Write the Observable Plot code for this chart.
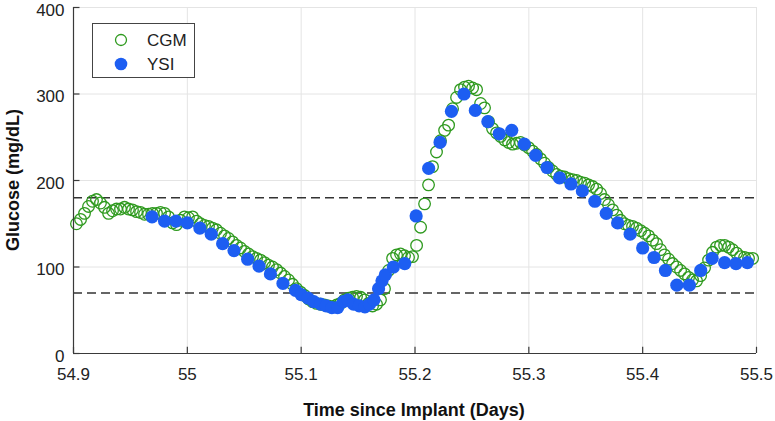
<!DOCTYPE html>
<html>
<head>
<meta charset="utf-8">
<script src="https://cdn.jsdelivr.net/npm/d3@7"></script>
<script src="https://cdn.jsdelivr.net/npm/@observablehq/plot@0.6"></script>
<style>
  html, body { margin: 0; padding: 0; background: #fff; }
  #chart { width: 775px; height: 421px; position: relative; }
</style>
</head>
<body>
<div id="chart"></div>
<script>
// ---- data ----
const xTicks = [54.9, 55, 55.1, 55.2, 55.3, 55.4, 55.5];
const yTicks = [0, 100, 200, 300, 400];
const thresholds = [70, 180];
const seriesNames = ["CGM", "YSI"];

const cgmTime = [
  54.9026, 54.9062, 54.9097, 54.9132, 54.9167, 54.9202, 54.9237, 54.9272, 54.9308, 54.9343,
  54.9378, 54.9413, 54.9448, 54.9483, 54.9518, 54.9554, 54.9589, 54.9624, 54.9659, 54.9694,
  54.9729, 54.9764, 54.9800, 54.9835, 54.9870, 54.9905, 54.9940, 54.9975, 55.0010, 55.0046,
  55.0081, 55.0116, 55.0151, 55.0186, 55.0221, 55.0256, 55.0292, 55.0327, 55.0362, 55.0397,
  55.0432, 55.0467, 55.0502, 55.0538, 55.0573, 55.0608, 55.0643, 55.0678, 55.0713, 55.0748,
  55.0784, 55.0819, 55.0854, 55.0889, 55.0924, 55.0959, 55.0994, 55.1030, 55.1065, 55.1100,
  55.1135, 55.1170, 55.1205, 55.1240, 55.1276, 55.1311, 55.1346, 55.1381, 55.1416, 55.1451,
  55.1486, 55.1522, 55.1557, 55.1592, 55.1627, 55.1662, 55.1697, 55.1732, 55.1768, 55.1803,
  55.1838, 55.1873, 55.1908, 55.1943, 55.1978, 55.2014, 55.2049, 55.2084, 55.2119, 55.2154,
  55.2189, 55.2224, 55.2260, 55.2295, 55.2330, 55.2365, 55.2400, 55.2435, 55.2470, 55.2506,
  55.2541, 55.2576, 55.2611, 55.2646, 55.2681, 55.2716, 55.2752, 55.2787, 55.2822, 55.2857,
  55.2892, 55.2927, 55.2962, 55.2998, 55.3033, 55.3068, 55.3103, 55.3138, 55.3173, 55.3208,
  55.3244, 55.3279, 55.3314, 55.3349, 55.3384, 55.3419, 55.3454, 55.3490, 55.3525, 55.3560,
  55.3595, 55.3630, 55.3665, 55.3700, 55.3736, 55.3771, 55.3806, 55.3841, 55.3876, 55.3911,
  55.3946, 55.3982, 55.4017, 55.4052, 55.4087, 55.4122, 55.4157, 55.4192, 55.4228, 55.4263,
  55.4298, 55.4333, 55.4368, 55.4403, 55.4438, 55.4474, 55.4509, 55.4544, 55.4579, 55.4614,
  55.4649, 55.4684, 55.4720, 55.4755, 55.4790, 55.4825, 55.4860, 55.4895, 55.4930, 55.4966
];
const cgmGlucose = [
  150, 155, 162, 170, 176, 178, 174, 169, 162, 165,
  167, 167, 169, 167, 166, 164, 163, 161, 161, 162,
  162, 163, 162, 158, 151, 149, 154, 158, 157, 158,
  153, 150, 148, 147, 145, 143, 139, 136, 133, 129,
  125, 122, 118, 115, 112, 110, 108, 105, 102, 100,
  97, 93, 89, 85, 80, 75, 71, 67, 63, 60,
  58, 57, 56, 55, 54, 56, 58, 62, 64, 65,
  66, 65, 62, 58, 55, 57, 62, 75, 96, 110,
  114, 115, 113, 111, 112, 125, 146, 173, 195, 216,
  233, 246, 258, 264, 283, 296, 305, 308, 309, 307,
  305, 289, 284, 268, 260, 255, 251, 247, 244, 242,
  243, 244, 241, 238, 234, 230, 225, 220, 215, 211,
  207, 205, 204, 202, 201, 200, 198, 197, 195, 193,
  190, 185, 178, 172, 166, 160, 154, 150, 148, 147,
  145, 142, 139, 136, 131, 127, 120, 114, 109, 104,
  100, 96, 92, 88, 85, 84, 90, 99, 108, 117,
  123, 125, 125, 123, 120, 116, 112, 111, 110, 110
];

const ysiTime = [
  54.969, 54.980, 54.990, 55.000, 55.011, 55.021, 55.031, 55.041, 55.053, 55.063,
  55.073, 55.084, 55.095, 55.100, 55.106, 55.111, 55.117, 55.122, 55.127, 55.132,
  55.137, 55.141, 55.146, 55.151, 55.156, 55.160, 55.164, 55.168, 55.171, 55.174,
  55.181, 55.191, 55.201, 55.212, 55.222, 55.232, 55.243, 55.253, 55.264, 55.274,
  55.285, 55.296, 55.306, 55.316, 55.327, 55.337, 55.347, 55.358, 55.368, 55.378,
  55.389, 55.400, 55.410, 55.420, 55.430, 55.441, 55.451, 55.461, 55.472, 55.482,
  55.492
];
const ysiGlucose = [
  158, 153, 153, 151, 145, 138, 127, 119, 109, 101,
  92, 81, 73, 68, 64, 60, 57, 55, 53, 53,
  60, 62, 57, 55, 54, 57, 62, 75, 84, 91,
  100, 104, 159, 214, 244, 280, 300, 281, 268, 254,
  258, 242, 229, 215, 203, 196, 188, 176, 162, 151,
  138, 122, 111, 96, 79, 79, 96, 110, 105, 104,
  105
];

// ---- build tables ----
const cgm = cgmTime.map((t, i) => ({t, g: cgmGlucose[i]}));
const ysi = ysiTime.map((t, i) => ({t, g: ysiGlucose[i]}));

const green = "#2f9a1f";
const blue = "#1d5ef2";
const axisColor = "#3a3a3a";
const font = "'Liberation Sans', Arial, Helvetica, sans-serif";

const xMin = xTicks[0], xMax = xTicks[xTicks.length - 1];
const yMin = yTicks[0], yMax = yTicks[yTicks.length - 1];
const tickLenX = (xMax - xMin) * 0.0095; // inward ticks length in data units
const tickLenY = (yMax - yMin) * 0.018;

const chart = Plot.plot({
  width: 775,
  height: 421,
  marginLeft: 73,
  marginRight: 19,
  marginTop: 7,
  marginBottom: 68,
  style: {fontFamily: font, fontSize: "16px", color: "#222", background: "#fff"},
  x: {domain: [xMin, xMax]},
  y: {domain: [yMin, yMax]},
  marks: [
    Plot.ruleX(xTicks.slice(1), {stroke: "#e4e4e4", strokeWidth: 1}),
    Plot.ruleY(yTicks.slice(1), {stroke: "#e4e4e4", strokeWidth: 1}),
    Plot.ruleY(thresholds, {stroke: "#333", strokeWidth: 1.6, strokeDasharray: "9,5"}),
    Plot.dot(cgm, {x: "t", y: "g", r: 5.8, stroke: green, strokeWidth: 1.3, fill: "none"}),
    Plot.dot(ysi, {x: "t", y: "g", r: 6.6, fill: blue, stroke: "none"}),
    Plot.ruleX([xMin], {stroke: axisColor, strokeWidth: 1.2}),
    Plot.ruleY([yMin], {stroke: axisColor, strokeWidth: 1.2}),
    Plot.ruleX(xTicks, {y1: yMin, y2: yMin + tickLenY, stroke: axisColor, strokeWidth: 1.2}),
    Plot.ruleY(yTicks, {x1: xMin, x2: xMin + tickLenX, stroke: axisColor, strokeWidth: 1.2}),
    Plot.axisX({ticks: xTicks, tickSize: 0, tickPadding: 14, tickFormat: d => String(d), label: null, fontSize: 17}),
    Plot.axisY({ticks: yTicks, tickSize: 0, tickPadding: 9, dy: 3, tickFormat: d => String(d), label: null, fontSize: 17})
  ]
});

document.getElementById("chart").appendChild(chart);

// ---- titles & legend ----
const svg = d3.select(chart);
svg.append("text")
  .attr("x", 414).attr("y", 416)
  .attr("text-anchor", "middle")
  .style("font-family", font).style("font-weight", "bold").style("font-size", "18px").style("fill", "#111")
  .text("Time since Implant (Days)");
svg.append("text")
  .attr("transform", "translate(19,180) rotate(-90)")
  .attr("text-anchor", "middle")
  .style("font-family", font).style("font-weight", "bold").style("font-size", "18px").style("fill", "#111")
  .text("Glucose (mg/dL)");

const lg = svg.append("g");
lg.append("rect").attr("x", 92.5).attr("y", 23.5).attr("width", 102).attr("height", 54)
  .attr("fill", "#fff").attr("stroke", "#444").attr("stroke-width", 1);
lg.append("circle").attr("cx", 121).attr("cy", 40).attr("r", 5.5)
  .attr("fill", "none").attr("stroke", green).attr("stroke-width", 1.3);
lg.append("circle").attr("cx", 121).attr("cy", 64).attr("r", 6.3).attr("fill", blue);
[seriesNames[0], seriesNames[1]].forEach((name, i) => {
  lg.append("text").attr("x", 147).attr("y", 46 + i * 24)
    .attr("text-anchor", "start")
    .style("font-family", font).style("font-size", "17px").style("fill", "#222")
    .text(name);
});
</script>
</body>
</html>
